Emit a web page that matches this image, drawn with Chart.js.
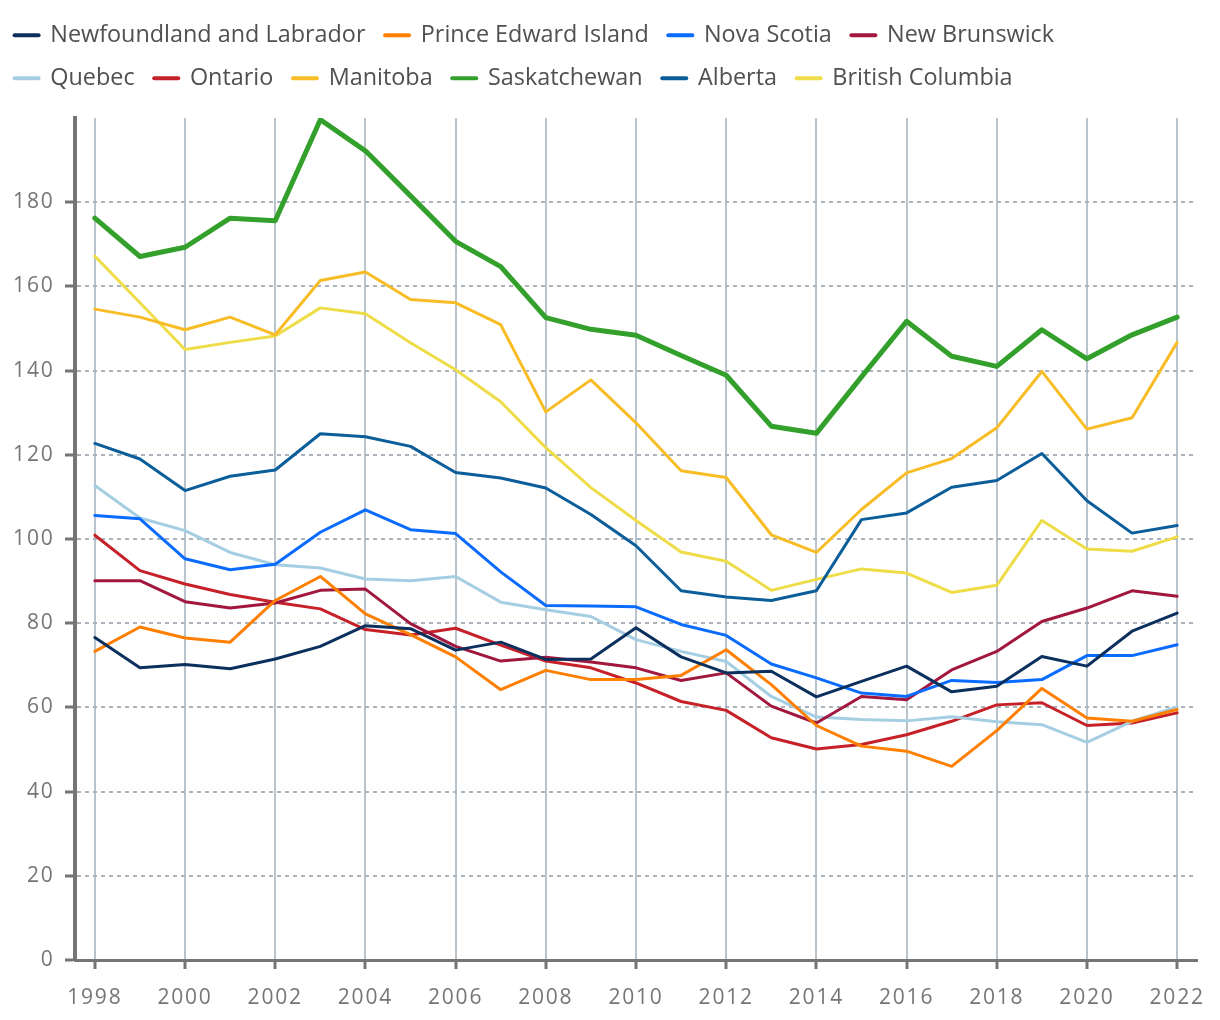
<!DOCTYPE html>
<html>
<head>
<meta charset="utf-8">
<script src="https://cdn.jsdelivr.net/npm/chart.js@4.4.0/dist/chart.umd.min.js"></script>
<style>
  html, body { margin: 0; padding: 0; background: #fff; }
  #wrap { width: 1220px; height: 1020px; }
</style>
</head>
<body>
<div id="wrap"><canvas id="chart" width="1220" height="1020"></canvas></div>
<script>
// years on the x axis
const years = [1998, 1999, 2000, 2001, 2002, 2003, 2004, 2005, 2006, 2007, 2008, 2009, 2010,
  2011, 2012, 2013, 2014, 2015, 2016, 2017, 2018, 2019, 2020, 2021, 2022];
const xTicks = [1998, 2000, 2002, 2004, 2006, 2008, 2010, 2012, 2014, 2016, 2018, 2020, 2022];
const yTicks = [0, 20, 40, 60, 80, 100, 120, 140, 160, 180];

const provinces = ['Newfoundland and Labrador', 'Prince Edward Island', 'Nova Scotia', 'New Brunswick',
  'Quebec', 'Ontario', 'Manitoba', 'Saskatchewan', 'Alberta', 'British Columbia'];

// values
const newfoundland = [76.6, 69.4, 70.2, 69.2, 71.5, 74.5, 79.4, 78.7, 73.6, 75.5, 71.4, 71.5, 78.9,
  72.0, 68.2, 68.6, 62.5, 66.2, 69.8, 63.7, 65.0, 72.1, 69.8, 78.1, 82.4];
const princeEdward = [73.3, 79.1, 76.5, 75.5, 85.4, 91.1, 82.2, 77.3, 72.0, 64.2, 68.8, 66.6, 66.6,
  67.6, 73.7, 65.4, 55.7, 50.8, 49.6, 46.0, 54.5, 64.5, 57.5, 56.7, 59.5];
const novaScotia = [105.6, 104.8, 95.3, 92.7, 94.0, 101.6, 106.9, 102.2, 101.3, 92.2, 84.2, 84.1, 83.9,
  79.7, 77.1, 70.3, 67.0, 63.4, 62.6, 66.4, 65.9, 66.6, 72.3, 72.3, 74.9];
const newBrunswick = [90.1, 90.1, 85.1, 83.6, 84.8, 87.8, 88.1, 79.9, 74.5, 71.0, 71.9, 70.8, 69.4,
  66.4, 68.2, 60.3, 56.3, 62.6, 61.8, 68.9, 73.3, 80.4, 83.6, 87.7, 86.4];
const quebec = [112.7, 105.0, 102.0, 96.8, 93.9, 93.1, 90.5, 90.1, 91.1, 85.0, 83.2, 81.6, 76.1,
  73.3, 70.9, 62.6, 57.7, 57.1, 56.8, 57.8, 56.6, 55.9, 51.7, 56.7, 60.1];
const ontario = [100.9, 92.5, 89.3, 86.8, 85.0, 83.4, 78.5, 77.2, 78.8, 74.8, 71.0, 69.4, 65.8,
  61.4, 59.3, 52.8, 50.1, 51.2, 53.5, 56.7, 60.6, 61.1, 55.7, 56.3, 58.7];
const manitoba = [154.6, 152.7, 149.7, 152.7, 148.5, 161.4, 163.4, 156.9, 156.1, 150.9, 130.2, 137.8, 127.6,
  116.2, 114.6, 101.0, 96.8, 107.0, 115.7, 119.1, 126.4, 139.8, 126.1, 128.8, 146.7];
const saskatchewan = [176.2, 167.1, 169.3, 176.2, 175.6, 199.6, 192.2, 181.5, 170.7, 164.7, 152.6, 149.8, 148.4,
  143.6, 138.9, 126.8, 125.1, 138.5, 151.7, 143.4, 141.0, 149.7, 142.8, 148.5, 152.7];
const alberta = [122.7, 119.0, 111.5, 114.9, 116.4, 125.0, 124.3, 122.0, 115.8, 114.5, 112.1, 105.8, 98.4,
  87.7, 86.2, 85.4, 87.7, 104.6, 106.2, 112.3, 113.9, 120.3, 109.1, 101.4, 103.2];
const britishColumbia = [167.2, 156.1, 145.0, 146.7, 148.2, 154.9, 153.5, 146.6, 140.2, 132.6, 121.7, 112.2, 104.4,
  96.9, 94.7, 87.8, 90.4, 92.9, 91.9, 87.3, 89.0, 104.4, 97.6, 97.1, 100.5];

const values = [newfoundland, princeEdward, novaScotia, newBrunswick, quebec, ontario,
  manitoba, saskatchewan, alberta, britishColumbia];
const colors = ['#0b305e', '#ff7f00', '#0a6bff', '#a1173d', '#a6cee3', '#c62129',
  '#f8bd26', '#33a02c', '#0b5e99', '#eedc48'];

const FONT = '"Open Sans", sans-serif';
const AXIS = '#757575';

// legend height is fixed so the plot area starts where the reference does
const legendSpace = {
  id: 'legendSpace',
  beforeInit(chart) {
    const fit = chart.legend.fit;
    chart.legend.fit = function () {
      fit.bind(chart.legend)();
      this.height = 114;
    };
  }
};

// the reference tick labels are widely spaced
const tickSpacing = {
  id: 'tickSpacing',
  afterLayout(chart) {
    Object.values(chart.scales).forEach(scale => {
      if (scale._spaced) return;
      const draw = scale.drawLabels;
      scale.drawLabels = function (area) {
        const prev = this.ctx.letterSpacing;
        this.ctx.letterSpacing = '1.8px';
        draw.call(this, area);
        this.ctx.letterSpacing = prev;
      };
      scale._spaced = true;
    });
  }
};

const datasets = provinces.map((name, i) => ({
  label: name,
  data: years.map((yr, j) => ({ x: yr, y: values[i][j] })),
  borderColor: colors[i],
  backgroundColor: colors[i],
  borderWidth: name === 'Saskatchewan' ? 5 : 3,
  pointRadius: 0,
  tension: 0,
  borderJoinStyle: 'round',
  borderCapStyle: 'round'
}));

new Chart(document.getElementById('chart'), {
  type: 'line',
  data: { datasets },
  options: {
    responsive: false,
    animation: false,
    layout: { padding: { left: -5, right: 23, top: 4, bottom: 0 } },
    plugins: {
      tooltip: { enabled: false },
      legend: {
        position: 'top',
        align: 'start',
        labels: {
          font: { family: FONT, size: 23.4 },
          color: '#505050',
          usePointStyle: true,
          pointStyleWidth: 24,
          boxHeight: 4,
          padding: 19.6,
          generateLabels(chart) {
            return Chart.defaults.plugins.legend.labels.generateLabels(chart).map(l =>
              Object.assign(l, { pointStyle: 'line', lineWidth: 4, lineCap: 'round' }));
          }
        }
      }
    },
    scales: {
      x: {
        type: 'linear',
        min: 1997.56,
        max: 2022.44,
        afterBuildTicks(axis) { axis.ticks = xTicks.map(v => ({ value: v })); },
        afterFit(axis) { axis.height = 60; axis.paddingLeft = 0; axis.paddingRight = 0; },
        grid: { color: '#b8c3cb', lineWidth: 2, tickColor: AXIS, tickWidth: 3, tickLength: 9, tickBorderDash: [] },
        border: { color: AXIS, width: 3 },
        ticks: {
          font: { family: FONT, size: 21 },
          color: AXIS,
          padding: 16,
          maxRotation: 0,
          autoSkip: false,
          callback: v => String(v)
        }
      },
      y: {
        min: 0,
        max: 200,
        afterBuildTicks(axis) { axis.ticks = yTicks.map(v => ({ value: v })); },
        afterFit(axis) { axis.width = 80; axis.paddingTop = 0; axis.paddingBottom = 0; },
        grid: { color: '#aab3bb', lineWidth: 2, tickColor: AXIS, tickWidth: 3, tickLength: 10, tickBorderDash: [] },
        border: { color: AXIS, width: 4, dash: [4, 4] },
        ticks: {
          font: { family: FONT, size: 21 },
          color: AXIS,
          padding: 10.5
        }
      }
    }
  },
  plugins: [legendSpace, tickSpacing]
});
</script>
</body>
</html>
